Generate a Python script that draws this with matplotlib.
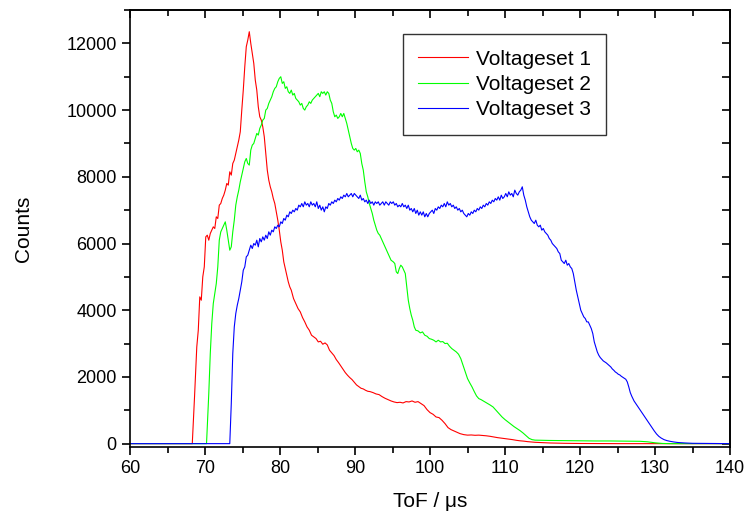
import numpy as np
import matplotlib
matplotlib.use("Agg")
import matplotlib.pyplot as plt
from matplotlib.ticker import MultipleLocator

plt.rcParams['font.family'] = ['Liberation Sans', 'DejaVu Sans']

# Voltageset 1 (ToF in us, counts)
tof_1 = [60.0, 68.3, 68.6, 68.9, 69.1, 69.3, 69.5, 69.7, 69.9, 70.1, 70.3, 70.5, 70.7, 70.9,
         71.1, 71.3, 71.5, 71.7, 71.9, 72.1, 72.3, 72.5, 72.7, 72.9, 73.1, 73.3, 73.5, 73.7,
         73.9, 74.1, 74.3, 74.5, 74.7, 74.9, 75.1, 75.3, 75.5, 75.7, 75.9, 76.1, 76.3, 76.5,
         76.7, 76.9, 77.1, 77.3, 77.5, 77.7, 77.9, 78.1, 78.3, 78.5, 78.7, 78.9, 79.1, 79.3,
         79.5, 79.7, 79.9, 80.1, 80.3, 80.5, 80.7, 80.9, 81.1, 81.3, 81.5, 81.8, 82.1, 82.4,
         82.7, 83.0, 83.3, 83.6, 83.9, 84.2, 84.5, 84.8, 85.1, 85.4, 85.7, 86.0, 86.3, 86.6,
         86.9, 87.2, 87.5, 87.8, 88.1, 88.4, 88.7, 89.0, 89.3, 89.6, 89.9, 90.2, 90.5, 90.8,
         91.1, 91.4, 91.7, 92.0, 92.4, 92.8, 93.2, 93.6, 94.0, 94.4, 94.8, 95.2, 95.6, 96.0,
         96.4, 96.8, 97.2, 97.6, 98.0, 98.4, 98.8, 99.2, 99.6, 100.0, 100.4, 100.8, 101.2,
         101.6, 102.0, 102.4, 102.8, 103.2, 103.6, 104.0, 104.5, 105.0, 105.5, 106.0, 106.5,
         107.0, 107.5, 108.0, 108.5, 109.0, 109.5, 110.0, 110.5, 111.0, 111.5, 112.0, 112.5,
         113.0, 114.0, 115.0, 116.0, 118.0, 120.0, 125.0, 140.0]
counts_1 = [0, 0, 1400, 2900, 3400, 4400, 4300, 5000, 5300, 6200, 6250, 6100, 6300, 6400,
            6500, 6450, 6800, 6750, 7150, 7200, 7350, 7450, 7600, 7800, 7750, 8150, 8050, 8400,
            8500, 8700, 8900, 9100, 9350, 10000, 10600, 11300, 11900, 12100, 12350, 12000, 11700, 11400,
            10900, 10600, 10100, 9800, 9700, 9500, 9200, 8700, 8200, 7900, 7700, 7550, 7350, 7200,
            6950, 6700, 6400, 6050, 5800, 5450, 5250, 5050, 4850, 4700, 4600, 4350, 4200, 4050,
            3950, 3780, 3650, 3500, 3400, 3250, 3200, 3150, 3050, 3070, 2980, 3020, 2960, 2800,
            2720, 2640, 2520, 2430, 2330, 2230, 2130, 2050, 1980, 1920, 1840, 1760, 1710, 1660,
            1640, 1600, 1570, 1560, 1530, 1490, 1470, 1410, 1360, 1320, 1280, 1250, 1230, 1240,
            1220, 1260, 1250, 1280, 1240, 1260, 1200, 1140, 1020, 930, 880, 800, 780,
            700, 600, 480, 420, 380, 340, 300, 270, 255, 260, 250, 255,
            245, 235, 220, 200, 180, 165, 150, 135, 120, 100, 85, 75,
            60, 40, 30, 20, 10, 5, 0, 0]

# Voltageset 2
tof_2 = [60.0, 70.2, 70.5, 70.7, 70.9, 71.1, 71.3, 71.5, 71.7, 71.9, 72.1, 72.3, 72.5, 72.7,
         72.9, 73.1, 73.3, 73.5, 73.7, 73.9, 74.1, 74.3, 74.5, 74.7, 74.9, 75.1, 75.3, 75.5,
         75.7, 75.9, 76.1, 76.3, 76.5, 76.7, 76.9, 77.1, 77.3, 77.5, 77.7, 77.9, 78.1, 78.3,
         78.5, 78.7, 78.9, 79.1, 79.3, 79.5, 79.7, 79.9, 80.1, 80.3, 80.5, 80.7, 80.9, 81.1,
         81.3, 81.5, 81.7, 81.9, 82.1, 82.3, 82.5, 82.7, 82.9, 83.1, 83.3, 83.5, 83.7, 83.9,
         84.1, 84.3, 84.5, 84.7, 84.9, 85.1, 85.3, 85.5, 85.7, 85.9, 86.1, 86.3, 86.5, 86.7,
         86.9, 87.1, 87.3, 87.5, 87.7, 87.9, 88.1, 88.3, 88.5, 88.7, 88.9, 89.1, 89.3, 89.5,
         89.7, 89.9, 90.1, 90.3, 90.5, 90.7, 90.9, 91.1, 91.3, 91.5, 91.7, 91.9, 92.1, 92.3,
         92.5, 92.7, 92.9, 93.1, 93.3, 93.6, 93.9, 94.2, 94.5, 94.8, 95.1, 95.3, 95.5, 95.7,
         95.9, 96.1, 96.3, 96.5, 96.7, 96.9, 97.1, 97.3, 97.5, 97.7, 97.9, 98.1, 98.4, 98.7,
         99.0, 99.3, 99.6, 99.9, 100.2, 100.5, 100.8, 101.1, 101.4, 101.7, 102.0, 102.3, 102.6,
         102.9, 103.2, 103.5, 103.8, 104.1, 104.4, 104.7, 105.0, 105.3, 105.6, 105.9, 106.2,
         106.5, 106.8, 107.1, 107.4, 107.7, 108.0, 108.4, 108.8, 109.2, 109.6, 110.0, 110.4,
         110.8, 111.2, 111.6, 112.0, 112.4, 112.8, 113.2, 113.6, 114.0, 115.0, 116.0, 118.0,
         120.0, 122.0, 124.0, 126.0, 128.0, 129.0, 130.0, 131.0, 132.0, 140.0]
counts_2 = [0, 0, 1500, 2700, 3600, 4200, 4500, 4800, 5300, 6100, 6350, 6450, 6550, 6650,
            6400, 6100, 5800, 5900, 6350, 6700, 7150, 7400, 7600, 7850, 8050, 8250, 8450, 8550,
            8400, 8350, 8800, 8950, 9000, 9150, 9300, 9250, 9450, 9550, 9700, 9750, 10000, 10050,
            10200, 10300, 10400, 10550, 10650, 10700, 10850, 10950, 11000, 10800, 10850, 10650, 10700, 10550,
            10500, 10600, 10450, 10500, 10350, 10300, 10250, 10150, 10200, 10050, 10000, 10100, 10150, 10250,
            10200, 10300, 10350, 10400, 10450, 10500, 10400, 10550, 10500, 10550, 10450, 10550, 10500, 10300,
            10200, 9950, 9800, 9850, 9750, 9800, 9900, 9800, 9900, 9750, 9600, 9400, 9200, 9000,
            8850, 8800, 8850, 8750, 8800, 8700, 8400, 8200, 7850, 7550, 7400, 7200, 7050, 6900,
            6700, 6550, 6400, 6300, 6250, 6100, 5950, 5800, 5650, 5500, 5450, 5400, 5150, 5100,
            5250, 5350, 5300, 5200, 5100, 4700, 4300, 4050, 3850, 3700, 3500, 3400, 3380, 3320,
            3350, 3250, 3220, 3150, 3130, 3100, 3050, 3100, 3050, 3060, 3000, 3010, 2920,
            2850, 2800, 2750, 2680, 2550, 2350, 2150, 1950, 1820, 1700, 1560, 1430,
            1350, 1320, 1280, 1240, 1200, 1160, 1100, 1000, 900, 800, 720, 650,
            580, 510, 450, 390, 320, 240, 160, 120, 105, 100, 95, 90,
            85, 80, 80, 75, 70, 55, 25, 5, 0, 0]

# Voltageset 3
tof_3 = [60.0, 73.3, 73.5, 73.7, 73.9, 74.1, 74.3, 74.5, 74.7, 74.9, 75.1, 75.3, 75.5, 75.7,
         75.9, 76.1, 76.3, 76.5, 76.7, 76.9, 77.1, 77.3, 77.5, 77.7, 77.9, 78.1, 78.3, 78.5,
         78.7, 78.9, 79.1, 79.3, 79.5, 79.7, 79.9, 80.1, 80.3, 80.5, 80.7, 80.9, 81.1, 81.3,
         81.5, 81.7, 81.9, 82.1, 82.3, 82.5, 82.7, 82.9, 83.1, 83.3, 83.5, 83.7, 83.9, 84.1,
         84.3, 84.5, 84.7, 84.9, 85.1, 85.3, 85.5, 85.7, 85.9, 86.1, 86.3, 86.5, 86.7, 86.9,
         87.1, 87.3, 87.5, 87.7, 87.9, 88.1, 88.3, 88.5, 88.7, 88.9, 89.1, 89.3, 89.5, 89.7,
         89.9, 90.1, 90.3, 90.5, 90.7, 90.9, 91.1, 91.3, 91.5, 91.7, 91.9, 92.1, 92.3, 92.5,
         92.7, 92.9, 93.1, 93.3, 93.5, 93.7, 93.9, 94.1, 94.3, 94.5, 94.7, 94.9, 95.1, 95.3,
         95.5, 95.7, 95.9, 96.1, 96.3, 96.5, 96.7, 96.9, 97.1, 97.3, 97.5, 97.7, 97.9, 98.1,
         98.3, 98.5, 98.7, 98.9, 99.1, 99.3, 99.5, 99.7, 99.9, 100.1, 100.3, 100.5, 100.7,
         100.9, 101.1, 101.3, 101.5, 101.7, 101.9, 102.1, 102.3, 102.5, 102.7, 102.9, 103.1,
         103.3, 103.5, 103.7, 103.9, 104.1, 104.3, 104.5, 104.7, 104.9, 105.1, 105.3, 105.5,
         105.7, 105.9, 106.1, 106.3, 106.5, 106.7, 106.9, 107.1, 107.3, 107.5, 107.7, 107.9,
         108.1, 108.3, 108.5, 108.7, 108.9, 109.1, 109.3, 109.5, 109.7, 109.9, 110.1, 110.3,
         110.5, 110.7, 110.9, 111.1, 111.3, 111.5, 111.7, 111.9, 112.1, 112.3, 112.5, 112.7,
         112.9, 113.1, 113.3, 113.5, 113.7, 113.9, 114.1, 114.3, 114.5, 114.7, 114.9, 115.1,
         115.3, 115.5, 115.7, 115.9, 116.1, 116.3, 116.5, 116.7, 116.9, 117.1, 117.3, 117.5,
         117.7, 117.9, 118.1, 118.3, 118.5, 118.7, 118.9, 119.1, 119.3, 119.5, 119.7, 119.9,
         120.1, 120.3, 120.5, 120.7, 120.9, 121.1, 121.3, 121.5, 121.7, 121.9, 122.1, 122.3,
         122.5, 122.7, 122.9, 123.1, 123.3, 123.5, 123.7, 123.9, 124.1, 124.3, 124.5, 124.7,
         124.9, 125.1, 125.3, 125.5, 125.7, 125.9, 126.1, 126.3, 126.5, 126.7, 126.9, 127.2,
         127.5, 127.8, 128.1, 128.4, 128.7, 129.0, 129.3, 129.6, 129.9, 130.2, 130.5, 130.8,
         131.2, 131.6, 132.0, 132.5, 133.0, 134.0, 135.0, 137.0, 140.0]
counts_3 = [0, 0, 1200, 2700, 3500, 3900, 4150, 4350, 4600, 4850, 5200, 5300, 5600, 5650,
            5800, 5950, 5850, 6000, 5950, 6100, 5900, 6150, 6050, 6200, 6100, 6250, 6150, 6350,
            6250, 6400, 6350, 6500, 6450, 6550, 6500, 6650, 6600, 6750, 6700, 6850, 6800, 6950,
            6900, 7000, 6950, 7050, 7000, 7150, 7100, 7200, 7100, 7250, 7150, 7200, 7100, 7250,
            7150, 7200, 7100, 7250, 7050, 7150, 7000, 7100, 6950, 7100, 7050, 7200, 7150, 7250,
            7200, 7300, 7250, 7350, 7300, 7400, 7350, 7450, 7400, 7500, 7400, 7450, 7500, 7400,
            7500, 7450, 7400, 7350, 7450, 7300, 7350, 7250, 7300, 7200, 7300, 7200, 7250, 7150,
            7250, 7200, 7250, 7150, 7200, 7250, 7150, 7250, 7200, 7150, 7250, 7200, 7250, 7150,
            7200, 7100, 7150, 7100, 7200, 7100, 7150, 7050, 7150, 7000, 7050, 6950, 7050, 6900,
            7000, 6850, 6950, 6850, 6950, 6800, 6900, 6800, 6900, 6950, 7000, 6900, 7050,
            7000, 7100, 7050, 7150, 7100, 7200, 7100, 7250, 7150, 7200, 7100, 7150,
            7050, 7100, 7000, 7050, 6950, 7000, 6900, 6850, 6800, 6900, 6850, 6950,
            6900, 7000, 6950, 7050, 7000, 7100, 7050, 7150, 7100, 7200, 7150, 7250,
            7200, 7300, 7250, 7350, 7300, 7400, 7300, 7450, 7350, 7400, 7500, 7400,
            7550, 7450, 7500, 7400, 7600, 7500, 7450, 7550, 7600, 7700, 7450, 7300,
            7100, 6950, 6800, 6700, 6650, 6600, 6700, 6550, 6500, 6550, 6400, 6450,
            6350, 6300, 6250, 6150, 6100, 6000, 5950, 5900, 5850, 5750, 5700, 5500,
            5450, 5400, 5500, 5350, 5400, 5300, 5250, 5100, 4850, 4600, 4400, 4200,
            4000, 3900, 3800, 3750, 3650, 3650, 3550, 3450, 3300, 3050, 2900, 2750,
            2650, 2580, 2530, 2480, 2450, 2420, 2380, 2340, 2300, 2240, 2200, 2150,
            2120, 2080, 2060, 2020, 1990, 1960, 1930, 1850, 1700, 1530, 1420, 1280,
            1180, 1080, 980, 880, 780, 680, 580, 480, 380, 290, 220, 170,
            120, 90, 70, 50, 35, 20, 10, 5, 0]

series = [
    (tof_1, counts_1, '#ff0000', 'Voltageset 1'),
    (tof_2, counts_2, '#00ff00', 'Voltageset 2'),
    (tof_3, counts_3, '#0000ff', 'Voltageset 3'),
]

fig = plt.figure(figsize=(7.46, 5.14), dpi=100)
ax = fig.add_axes([0.1743, 0.1304, 0.8043, 0.8501])

for t, c, col, lab in series:
    ax.plot(t, c, color=col, linewidth=0.8, label=lab)

ax.set_xlim(60, 140)
ax.set_ylim(-100, 13000)
ax.xaxis.set_major_locator(MultipleLocator(10))
ax.xaxis.set_minor_locator(MultipleLocator(5))
ax.yaxis.set_major_locator(MultipleLocator(2000))
ax.yaxis.set_minor_locator(MultipleLocator(1000))

for sp in ax.spines.values():
    sp.set_linewidth(1.2)

ax.tick_params(which='major', direction='out', length=6, width=1.2, labelsize=13)
ax.tick_params(which='minor', direction='out', length=4, width=1.2)

# origin style: top and right axes with inward ticks, no labels
top = ax.secondary_xaxis('top')
top.xaxis.set_major_locator(MultipleLocator(10))
top.xaxis.set_minor_locator(MultipleLocator(5))
top.tick_params(which='both', direction='in', labeltop=False, width=1.2)
top.tick_params(which='major', length=6)
top.tick_params(which='minor', length=4)
top.spines['top'].set_linewidth(1.2)

right = ax.secondary_yaxis('right')
right.yaxis.set_major_locator(MultipleLocator(2000))
right.yaxis.set_minor_locator(MultipleLocator(1000))
right.tick_params(which='both', direction='in', labelright=False, width=1.2)
right.tick_params(which='major', length=6)
right.tick_params(which='minor', length=6)
right.spines['right'].set_linewidth(1.2)

ax.set_xlabel('ToF / μs', fontsize=15, labelpad=11)
ax.set_ylabel('Counts', fontsize=15, labelpad=24)

leg = ax.legend(loc='upper left', bbox_to_anchor=(0.540, 0.934), bbox_transform=fig.transFigure,
                fontsize=15, frameon=True, fancybox=False, edgecolor='black',
                handlelength=2.4, handletextpad=0.35, labelspacing=0.3, borderpad=0.75,
                borderaxespad=0)
leg.get_frame().set_linewidth(1.0)

fig.savefig('out.png', dpi=100)
